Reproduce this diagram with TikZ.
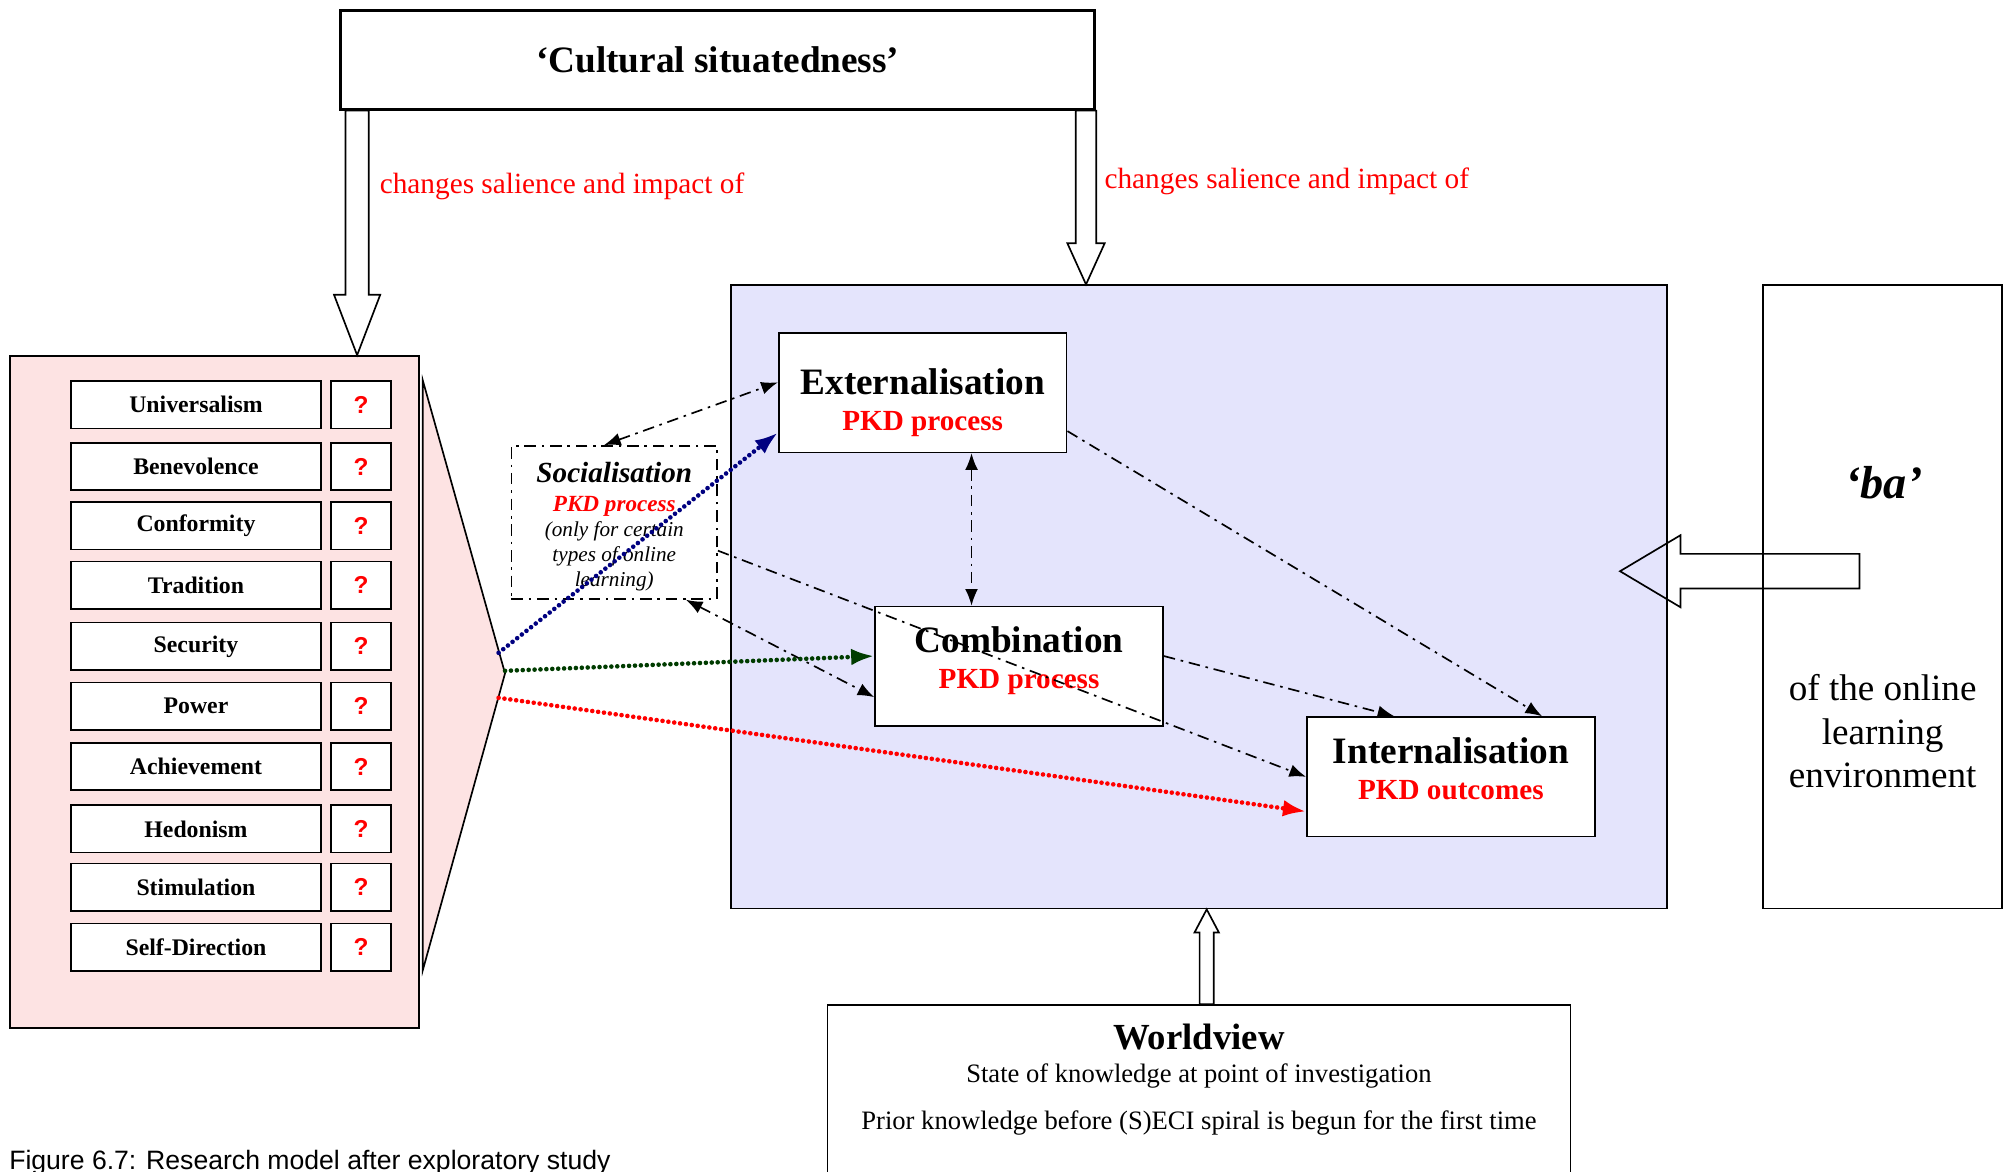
\documentclass[tikz,border=0pt]{standalone}
\usepackage{fontspec}
\setmainfont{Liberation Serif}
\setsansfont{Liberation Sans}
\usetikzlibrary{arrows.meta}
\definecolor{valuepink}{RGB}{253,227,227}
\definecolor{secililac}{RGB}{228,228,252}
\definecolor{navyline}{RGB}{0,0,128}
\definecolor{greenline}{RGB}{0,60,0}
\begin{document}
\begin{tikzpicture}[
        x=1pt, y=-1pt,
        box/.style={rectangle, draw, line width=1.3pt, fill=white, inner sep=0pt, align=center},
        valuebox/.style={box, minimum width=195pt, minimum height=37pt, font=\fontsize{18.5}{22}\selectfont\bfseries},
        qbox/.style={box, minimum width=47pt, minimum height=37pt, text=red, font=\fontsize{19}{22}\selectfont\sffamily\bfseries},
        secibox/.style={box, minimum width=224pt, minimum height=93pt, font=\fontsize{29}{30}\selectfont\bfseries},
        dashdot/.style={line width=1.3pt, dash pattern=on 9pt off 4.5pt on 2pt off 4.5pt},
        dd/.style={dashdot, -{Latex[length=13pt,width=10pt]}},
        ddboth/.style={dashdot, {Latex[length=13pt,width=10pt]}-{Latex[length=13pt,width=10pt]}},
        dotline/.style={line width=3.6pt, line cap=round, dash pattern=on 0pt off 4.6pt, -{Latex[length=18pt,width=13pt]}},
        hollow/.style={draw, line width=1.3pt, line join=miter},
        redlabel/.style={anchor=west, text=red, font=\fontsize{22.8}{26}\selectfont}
    ]
        \useasboundingbox (0,0) rectangle (1568,912);

        % Outer frames
        \node[box, line width=2.2pt, minimum width=587pt, minimum height=77pt, font=\fontsize{29}{32}\selectfont\bfseries] (cult) at (558.5,46.5) {‘Cultural situatedness’};
        \node[box, fill=valuepink, minimum width=318pt, minimum height=523pt] (values) at (167,538.5) {};
        \node[box, fill=secililac, minimum width=728pt, minimum height=485pt] (blue) at (933,464.5) {};
        \node[box, minimum width=186pt, minimum height=485pt] (ba) at (1465,464.5) {};
        \node[box, minimum width=578pt, minimum height=150pt] (world) at (933,857) {};

        % Schwartz values
        \node[valuebox] (univ) at (152.5,315) {Universalism};
        \node[qbox] (univq) at (281,315) {?};
        \node[valuebox] (bene) at (152.5,363) {Benevolence};
        \node[qbox] (beneq) at (281,363) {?};
        \node[valuebox] (conf) at (152.5,409) {Conformity};
        \node[qbox] (confq) at (281,409) {?};
        \node[valuebox] (trad) at (152.5,455.5) {Tradition};
        \node[qbox] (tradq) at (281,455.5) {?};
        \node[valuebox] (secu) at (152.5,503) {Security};
        \node[qbox] (secuq) at (281,503) {?};
        \node[valuebox] (powe) at (152.5,549.5) {Power};
        \node[qbox] (poweq) at (281,549.5) {?};
        \node[valuebox] (achi) at (152.5,596.5) {Achievement};
        \node[qbox] (achiq) at (281,596.5) {?};
        \node[valuebox] (hedo) at (152.5,645) {Hedonism};
        \node[qbox] (hedoq) at (281,645) {?};
        \node[valuebox] (stim) at (152.5,690.5) {Stimulation};
        \node[qbox] (stimq) at (281,690.5) {?};
        \node[valuebox] (self) at (152.5,737) {Self-Direction};
        \node[qbox] (selfq) at (281,737) {?};

        % Funnel
        \draw[line width=1.3pt, fill=valuepink] (329,296) -- (393,524) -- (329,755) -- cycle;
        \coordinate (fblue) at (388,508);
        \coordinate (fgreen) at (393,522);
        \coordinate (fred) at (388,543);

        % SECI modes (struts move the text inside the boxes)
        \node[box, dashdot, font=\fontsize{16.5}{19.5}\selectfont\itshape, minimum width=160pt, minimum height=119pt] (soc) at (478,406.5)
            {{\fontsize{22.7}{24}\selectfont\bfseries\rule{0pt}{23pt}Socialisation}\\[3pt]{\fontsize{18}{20}\selectfont\bfseries\color{red}PKD process}\\(only for certain\\types of online\\learning)};
        \node[secibox, font=\fontsize{29}{28}\selectfont\bfseries] (ext) at (718,305.5) {\rule{0pt}{36pt}Externalisation\\{\color{red}\fontsize{22.7}{28}\selectfont PKD process}};
        \node[secibox, font=\fontsize{29}{28}\selectfont\bfseries] (comb) at (793,518.5) {Combination\\{\color{red}\fontsize{22.7}{28}\selectfont PKD process\rule[-13pt]{0pt}{13pt}}};
        \node[secibox, font=\fontsize{29}{28}\selectfont\bfseries] (int) at (1129,604.5) {Internalisation\\{\color{red}\fontsize{22.7}{28}\selectfont PKD outcomes\rule[-13pt]{0pt}{13pt}}};

        % Texts
        \node[redlabel] (leftlbl) at (292,145) {changes salience and impact of};
        \node[redlabel] (rightlbl) at (856,141) {changes salience and impact of};
        \node[font=\fontsize{36}{40}\selectfont\bfseries\itshape] (batitle) at (1466,376) {‘ba’};
        \node[align=center, font=\fontsize{28.9}{34}\selectfont] (batext) at (1465,569) {of the online\\learning\\environment};
        \node[anchor=north, align=center, inner sep=0pt, font=\fontsize{20.7}{25}\selectfont] (worldtxt) at (933,797)
            {{\fontsize{28.6}{30}\selectfont\bfseries Worldview}\\State of knowledge at point of investigation\\[12pt]Prior knowledge before (S)ECI spiral is begun for the first time};
        \node[anchor=base west, inner sep=0pt, font=\sffamily\fontsize{20.7}{24}\selectfont] (caption) at (7,910) {Figure 6.7: Research model after exploratory study};

        % Block arrows
        \coordinate (lbase) at ([xshift=14pt]cult.south west);
        \coordinate (ltip) at (lbase |- values.north);
        \draw[hollow] ([xshift=-9pt]lbase) -- ([xshift=-9pt,yshift=47pt]ltip) -- ([xshift=-18pt,yshift=47pt]ltip) -- (ltip)
            -- ([xshift=18pt,yshift=47pt]ltip) -- ([xshift=9pt,yshift=47pt]ltip) -- ([xshift=9pt]lbase) -- cycle;
        \coordinate (rbase) at ([xshift=-8pt]cult.south east);
        \coordinate (rtip) at (rbase |- blue.north);
        \draw[hollow] ([xshift=-8pt]rbase) -- ([xshift=-8pt,yshift=32pt]rtip) -- ([xshift=-14.5pt,yshift=32pt]rtip) -- (rtip)
            -- ([xshift=14.5pt,yshift=32pt]rtip) -- ([xshift=8pt,yshift=32pt]rtip) -- ([xshift=8pt]rbase) -- cycle;
        \coordinate (btip) at ([xshift=-37pt,yshift=20pt]blue.east);
        \coordinate (bbase) at ([xshift=-18pt,yshift=20pt]ba.center);
        \draw[hollow] ([yshift=13.5pt]bbase) -- ([xshift=47pt,yshift=13.5pt]btip) -- ([xshift=47pt,yshift=28pt]btip) -- (btip)
            -- ([xshift=47pt,yshift=-28pt]btip) -- ([xshift=47pt,yshift=-13.5pt]btip) -- ([yshift=-13.5pt]bbase) -- cycle;
        \coordinate (wtip) at ([xshift=6pt]blue.south);
        \coordinate (wbase) at (wtip |- world.north);
        \draw[hollow] ([xshift=-5.5pt]wbase) -- ([xshift=-5.5pt,yshift=-18pt]wtip) -- ([xshift=-9.5pt,yshift=-18pt]wtip) -- (wtip)
            -- ([xshift=9.5pt,yshift=-18pt]wtip) -- ([xshift=5.5pt,yshift=-18pt]wtip) -- ([xshift=5.5pt]wbase) -- cycle;

        % Knowledge conversions
        \draw[ddboth] ([xshift=-8pt]soc.north) -- ([yshift=8pt]ext.west);
        \draw[ddboth] ([xshift=38pt]ext.south) -- ([xshift=-37pt]comb.north);
        \draw[ddboth] ([xshift=-25pt]soc.south east) -- ([yshift=-24pt]comb.west);
        \draw[dd] ([yshift=-22pt]soc.east) -- (int.west);
        \draw[dd] ([yshift=8pt]comb.east) -- ([xshift=-44pt]int.north);
        \draw[dd] ([yshift=-30pt]ext.east) -- ([xshift=71pt]int.north);

        % Value influences
        \draw[dotline, navyline] (fblue) -- ([yshift=16pt]ext.south west);
        \draw[dotline, greenline] (fgreen) -- ([yshift=8pt]comb.west);
        \draw[dotline, red] (fred) -- ([yshift=-27pt]int.west);
    \end{tikzpicture}
\end{document}
